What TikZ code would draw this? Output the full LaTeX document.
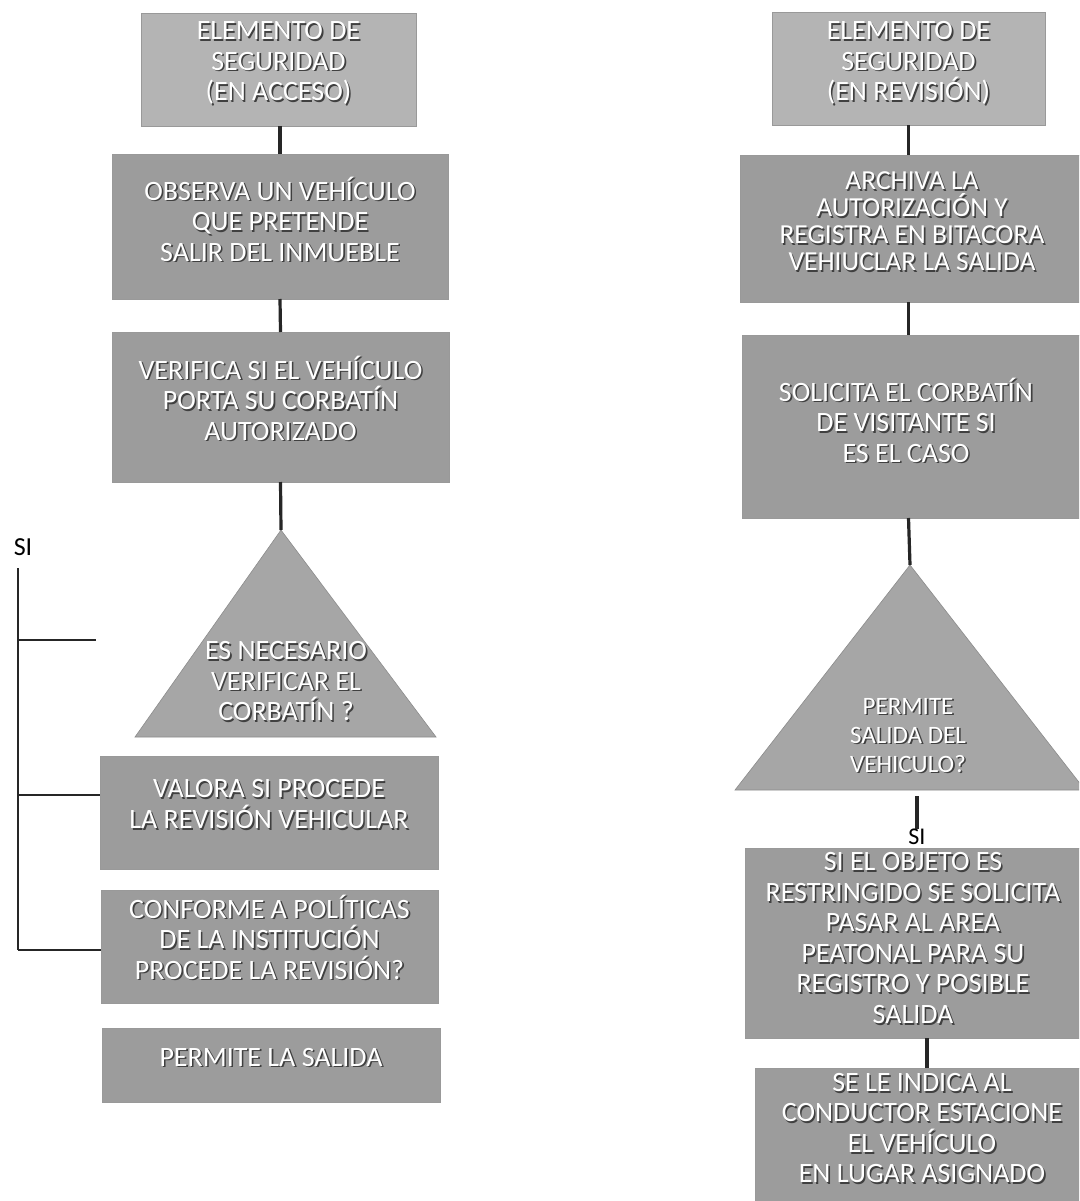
\documentclass[tikz,border=0pt]{standalone}
\usepackage{fontspec}
\setmainfont{Carlito}
\definecolor{topgray}{HTML}{B4B4B4}
\definecolor{boxgray}{HTML}{9C9C9C}
\definecolor{trigray}{HTML}{A6A6A6}
\newcommand\shd[1]{\leavevmode\rlap{\kern1.6pt\raisebox{-1.6pt}{\textcolor{black!75}{#1}}}#1}
\begin{document}
\begin{tikzpicture}[x=1pt,y=-1pt,
  box/.style={draw=black!40, line width=0.6pt, fill=boxgray, outer sep=0pt, inner sep=0pt},
  topbox/.style={box, fill=topgray},
  txt/.style={text=white, font=\fontsize{28}{30.5}\selectfont, align=center, inner sep=0pt},
  tri/.style={draw=black!45, line width=0.6pt, fill=trigray},
  conn/.style={draw=black!85, line width=3.2pt},
  brk/.style={draw=black!85, line width=1.2pt},
  lbl/.style={text=black, inner sep=0pt}]
\useasboundingbox (0,0) rectangle (1079,1201);
\clip (0,0) rectangle (1079,1201);
\fill[white] (0,0) rectangle (1079,1201);

% ---------------- left column ----------------
\node[topbox, minimum width=275, minimum height=113] (b1) at (278.5,69.5) {};
\node[txt] (b1t) at (278.5,64) {\shd{ELEMENTO DE}\\\shd{SEGURIDAD}\\\shd{(EN ACCESO)}};
\node[box, minimum width=336, minimum height=145] (b2) at (280,226.5) {};
\node[txt] (b2t) at (280,220) {\shd{OBSERVA UN VEHÍCULO}\\\shd{QUE PRETENDE}\\\shd{SALIR DEL INMUEBLE}};
\node[box, minimum width=337, minimum height=150] (b3) at (280.5,407) {};
\node[txt] (b3t) at (280.5,399) {\shd{VERIFICA SI EL VEHÍCULO}\\\shd{PORTA SU CORBATÍN}\\\shd{AUTORIZADO}};
\coordinate (t1apex) at (281,530);
\coordinate (t1r) at (436,737);
\coordinate (t1l) at (135,737);
\draw[tri] (t1apex) -- (t1r) -- (t1l) -- cycle;
\node[txt] (t1t) at (286,682) {\shd{ES NECESARIO}\\\shd{VERIFICAR EL}\\\shd{CORBATÍN ?}};
\node[box, minimum width=338, minimum height=113] (b4) at (269,812.5) {};
\node[txt] (b4t) at (269,805) {\shd{VALORA SI PROCEDE}\\\shd{LA REVISIÓN VEHICULAR}};
\node[box, minimum width=337, minimum height=113] (b5) at (269.5,946.5) {};
\node[txt] (b5t) at (269.5,938) {\shd{CONFORME A POLÍTICAS}\\\shd{DE LA INSTITUCIÓN}\\\shd{PROCEDE LA REVISIÓN?}};
\node[box, minimum width=338, minimum height=74] (b6) at (271,1065) {};
\node[txt] (b6t) at (271,1058) {\shd{PERMITE LA SALIDA}};

\draw[conn] (b2.north |- b1.south) -- (b2.north);
\draw[conn] (b2.south) -- (b3.north);
\draw[conn] (b3.south) -- (t1apex);

\node[lbl, font=\fontsize{26}{28}\selectfont] (sil) at (23,547) {SI};
\coordinate (k0) at (18,568);
\coordinate (k1) at (18,640);
\coordinate (k2) at (18,795);
\coordinate (k3) at (18,950);
\coordinate (k1e) at (96,640);
\draw[brk] (k0) -- (k3);
\draw[brk] (k1) -- (k1e);
\draw[brk] (k2) -- (b4.west |- k2);
\draw[brk] (k3) -- (b5.west |- k3);

% ---------------- right column ----------------
\node[topbox, minimum width=273, minimum height=113] (r1) at (908.5,68.5) {};
\node[txt] (r1t) at (908.5,64) {\shd{ELEMENTO DE}\\\shd{SEGURIDAD}\\\shd{(EN REVISIÓN)}};
\node[box, minimum width=342, minimum height=147] (r2) at (911,228.5) {};
\node[txt, font=\fontsize{27.5}{27}\selectfont] (r2t) at (912,222) {\shd{ARCHIVA LA}\\\shd{AUTORIZACIÓN Y}\\\shd{REGISTRA EN BITACORA}\\\shd{VEHIUCLAR LA SALIDA}};
\node[box, minimum width=340, minimum height=183] (r3) at (912,426.5) {};
\node[txt] (r3t) at (906,421) {\shd{SOLICITA EL CORBATÍN}\\\shd{DE VISITANTE SI}\\\shd{ES EL CASO}};
\coordinate (t2apex) at (910,565);
\coordinate (t2r) at (1085,790);
\coordinate (t2l) at (735,790);
\draw[tri] (t2apex) -- (t2r) -- (t2l) -- cycle;
\node[txt, font=\fontsize{25}{29}\selectfont] (t2t) at (908,736) {\shd{PERMITE}\\\shd{SALIDA DEL}\\\shd{VEHICULO?}};
\node[box, minimum width=337, minimum height=190] (r4) at (913.5,943) {};
\node[txt] (r4t) at (913,939) {\shd{SI EL OBJETO ES}\\\shd{RESTRINGIDO SE SOLICITA}\\\shd{PASAR AL AREA}\\\shd{PEATONAL PARA SU}\\\shd{REGISTRO Y POSIBLE}\\\shd{SALIDA}};
\node[box, minimum width=335, minimum height=147] (r5) at (922.5,1141.5) {};
\node[txt] (r5t) at (922,1129) {\shd{SE LE INDICA AL}\\\shd{CONDUCTOR ESTACIONE}\\\shd{EL VEHÍCULO}\\\shd{EN LUGAR ASIGNADO}};

\draw[conn] (r2.north -| r1.south) -- (r1.south);
\draw[conn] (r1.south |- r2.south) -- (r1.south |- r3.north);
\draw[conn] (r1.south |- r3.south) -- (t2apex);

\node[lbl, font=\fontsize{24}{26}\selectfont, anchor=south] (sir) at (917,845) {SI};
\coordinate (t2b) at (917,796);
\draw[conn] (t2b) -- (sir.north);
\draw[conn] (r5.north -| 927,0) -- (r4.south -| 927,0);
\end{tikzpicture}
\end{document}
